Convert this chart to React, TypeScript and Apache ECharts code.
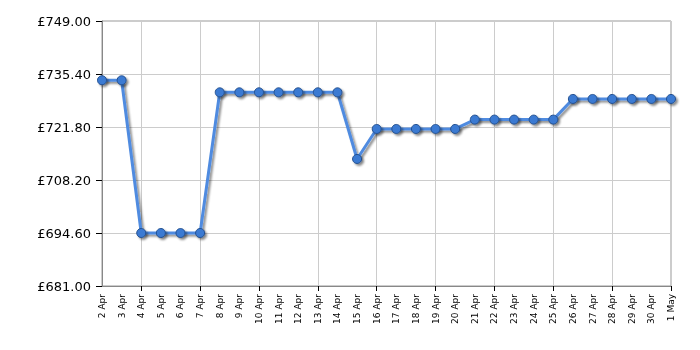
import React, { useEffect, useRef } from "react";
import * as echarts from "echarts";

const categories = [
  "2 Apr", "3 Apr", "4 Apr", "5 Apr", "6 Apr", "7 Apr", "8 Apr", "9 Apr", "10 Apr", "11 Apr",
  "12 Apr", "13 Apr", "14 Apr", "15 Apr", "16 Apr", "17 Apr", "18 Apr", "19 Apr", "20 Apr", "21 Apr",
  "22 Apr", "23 Apr", "24 Apr", "25 Apr", "26 Apr", "27 Apr", "28 Apr", "29 Apr", "30 Apr", "1 May",
];

const prices = [
  733.8, 733.8, 694.6, 694.6, 694.6, 694.6, 730.7, 730.7, 730.7, 730.7,
  730.7, 730.7, 730.7, 713.6, 721.3, 721.3, 721.3, 721.3, 721.3, 723.7,
  723.7, 723.7, 723.7, 723.7, 729.0, 729.0, 729.0, 729.0, 729.0, 729.0,
];

const yMin = 681;
const yMax = 749;
const yInterval = 13.6;

export default function App() {
  const ref = useRef<HTMLDivElement>(null);
  useEffect(() => {
    if (!ref.current) return;
    const chart = echarts.init(ref.current, undefined, { renderer: "svg" });
    const every3 = (i: number) => i % 3 === 2;
    chart.setOption({
      animation: false,
      grid: {
        left: 102, right: 29, top: 21, bottom: 64, containLabel: false,
        show: true, borderColor: "#999999", borderWidth: 1,
      },
      xAxis: {
        type: "category",
        data: categories,
        boundaryGap: false,
        axisLine: { lineStyle: { color: "#888888", width: 1 } },
        axisTick: { show: true, interval: every3, length: 5, lineStyle: { color: "#000000" } },
        splitLine: { show: true, interval: every3, lineStyle: { color: "#cccccc", width: 1 } },
        axisLabel: {
          interval: 0,
          rotate: 90,
          fontFamily: "DejaVu Sans",
          fontSize: 9,
          color: "#000000",
          margin: 8,
        },
      },
      yAxis: {
        type: "value",
        min: yMin,
        max: yMax,
        interval: yInterval,
        axisLine: { show: true, lineStyle: { color: "#888888", width: 1 } },
        axisTick: { show: true, length: 6, lineStyle: { color: "#000000" } },
        splitLine: { show: true, lineStyle: { color: "#cccccc", width: 1 } },
        axisLabel: {
          fontFamily: "DejaVu Sans",
          fontSize: 13,
          color: "#000000",
          margin: 11,
          formatter: (v: number) => "£" + v.toFixed(2),
        },
      },
      series: [
        {
          type: "line",
          data: prices,
          symbol: "circle",
          symbolSize: 9,
          lineStyle: {
            color: "#4f8be0",
            width: 3,
            shadowColor: "rgba(0,0,0,0.45)",
            shadowBlur: 2,
            shadowOffsetX: 2,
            shadowOffsetY: 2,
          },
          itemStyle: {
            color: "#3b7ad2",
            borderColor: "#24508f",
            borderWidth: 1,
            shadowColor: "rgba(0,0,0,0.45)",
            shadowBlur: 2,
            shadowOffsetX: 2,
            shadowOffsetY: 2,
          },
        },
      ],
    });
    return () => chart.dispose();
  }, []);
  return (
    <div
      ref={ref}
      style={{ position: "fixed", left: 0, top: 0, width: 700, height: 350 }}
    />
  );
}
